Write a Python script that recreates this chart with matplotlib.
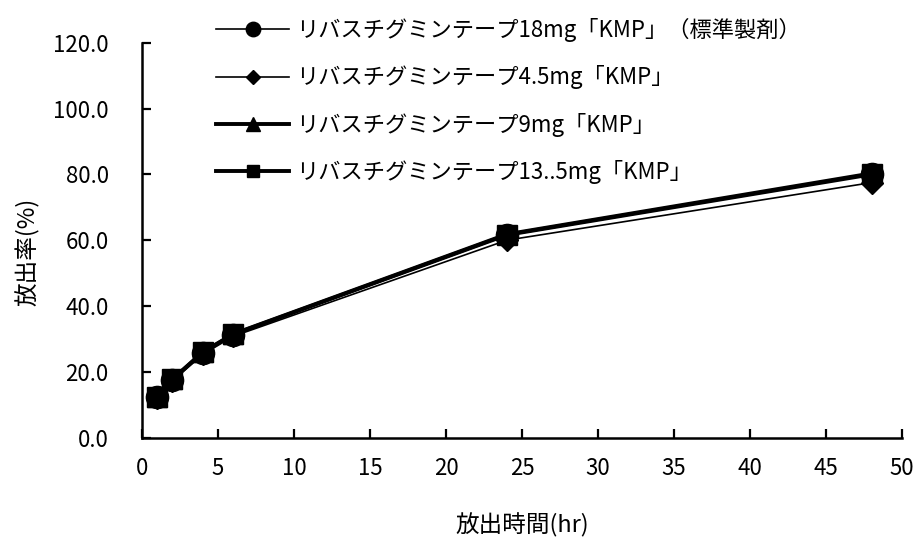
import matplotlib
matplotlib.use("Agg")
import matplotlib.pyplot as plt

plt.rcParams['font.family'] = ['Noto Sans CJK JP', 'DejaVu Sans']

hours = [1, 2, 4, 6, 24, 48]
labels = [
    "リバスチグミンテープ18mg「KMP」（標準製剤）",
    "リバスチグミンテープ4.5mg「KMP」",
    "リバスチグミンテープ9mg「KMP」",
    "リバスチグミンテープ13..5mg「KMP」",
]
s18 = [12.3, 17.6, 25.8, 31.2, 61.5, 80.0]
s45 = [12.0, 17.2, 25.3, 30.8, 60.0, 77.5]
s9 = [12.5, 17.8, 26.0, 31.5, 61.8, 80.3]
s135 = [12.4, 17.7, 25.9, 31.4, 61.6, 80.0]
series = [s18, s45, s9, s135]

markers = ['o', 'D', '^', 's']
msizes = [16, 11, 15, 14]
lwidths = [1.2, 1.2, 2.8, 2.8]

fig = plt.figure(figsize=(9.17, 5.5), dpi=100)
ax = fig.add_axes([142/917, 1-437.7/550, 760/917, 395/550])

for vals, lab, m, ms, lw in zip(series, labels, markers, msizes, lwidths):
    ax.plot(hours, vals, color='black', marker=m, markersize=ms, linewidth=lw,
            label=lab, clip_on=False)

ax.set_xlim(0, 50)
ax.set_ylim(0, 120)
ax.set_xticks(range(0, 51, 5))
ax.set_yticks(range(0, 121, 20))
ax.set_yticklabels([f"{v:.1f}" for v in range(0, 121, 20)])

for s in ['top', 'right']:
    ax.spines[s].set_visible(False)
for s in ['left', 'bottom']:
    ax.spines[s].set_linewidth(1.8)

ax.tick_params(axis='both', direction='in', length=6.5, width=1.6, labelsize=16)
ax.tick_params(axis='y', pad=24)
ax.tick_params(axis='x', pad=14)

ax.set_xlabel("放出時間(hr)", fontsize=17)
ax.set_ylabel("放出率(%)", fontsize=17)
ax.xaxis.set_label_coords(0.5, -0.19)
ax.yaxis.set_label_coords(-0.135, 0.47)

leg = ax.legend(loc='upper left', bbox_to_anchor=(205/917, 1 - 7/550),
                bbox_transform=fig.transFigure, frameon=False, fontsize=16,
                handlelength=3.3, handletextpad=0.3, labelspacing=1.05,
                markerscale=0.65, borderpad=0)

fig.savefig("out.png", dpi=100)
